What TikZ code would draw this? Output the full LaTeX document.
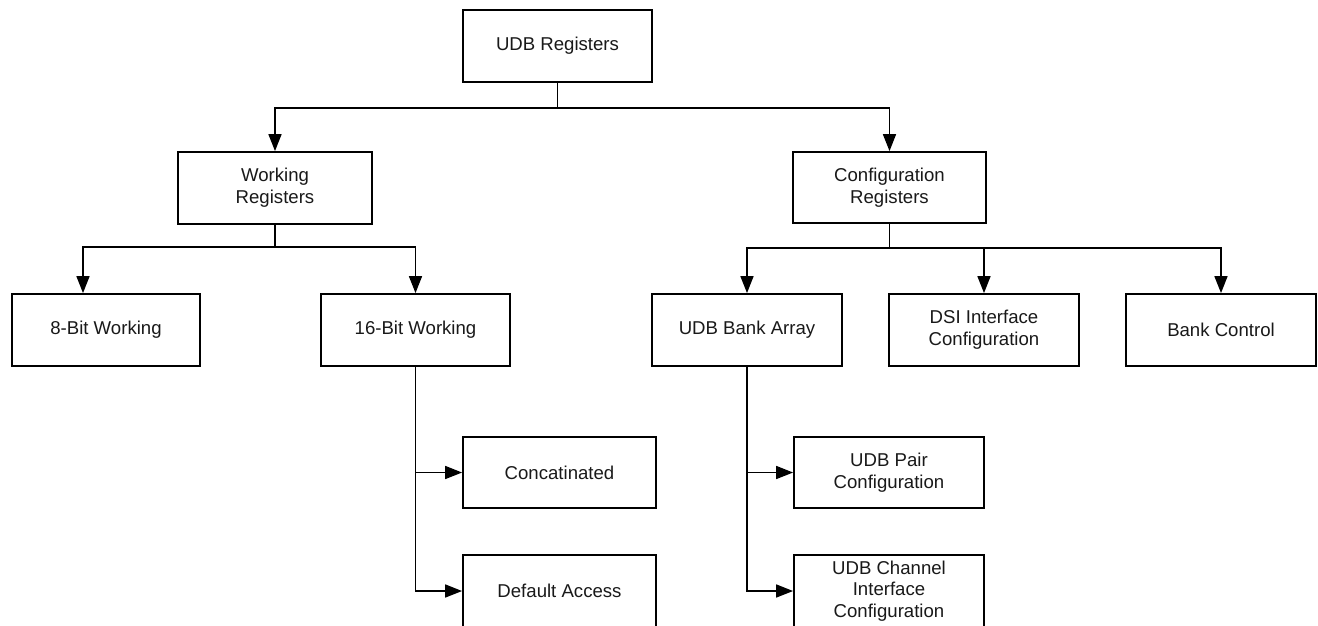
\documentclass[tikz,border=0pt]{standalone}
\usepackage{fontspec}
\setmainfont{Liberation Sans}
\usetikzlibrary{arrows.meta}
\begin{document}
\begin{tikzpicture}[x=1pt,y=-1pt,
  box/.style={draw=black,line width=1.8pt,fill=white,inner sep=0pt,align=center,
    minimum width=190pt,minimum height=72pt,text=black!90,
    font=\fontsize{18.6}{21.7}\selectfont},
  conn/.style={draw=black,line width=1.6pt},
  arr/.style={conn,-{Triangle[length=17pt,width=13pt]}}]
\useasboundingbox (0,0) rectangle (1318,625);
% nodes
\node[box,minimum width=189pt] (top) at (557.5,46) {UDB Registers};
\node[box,minimum width=194pt] (work) at (275,188) {Working\\Registers};
\node[box,minimum width=193pt,minimum height=71pt] (conf) at (889.5,187.5) {Configuration\\Registers};
\node[box,minimum width=188pt] (b8) at (106,330) {8-Bit Working};
\node[box,minimum width=189pt] (b16) at (415.5,330) {16-Bit Working};
\node[box] (bank) at (747,330) {UDB Bank Array};
\node[box] (dsi) at (984,330) {DSI Interface\\Configuration};
\node[box] (ctrl) at (1221,330) {Bank Control};
\node[box,minimum width=193pt,minimum height=71pt] (conc) at (559.5,472.5) {Concatinated};
\node[box,minimum width=193pt] (def) at (559.5,591) {Default Access};
\node[box,minimum height=71pt] (pair) at (889,472.5) {UDB Pair\\Configuration};
\node[box] (chan) at (889,591) {UDB Channel\\Interface\\Configuration};
% junctions
\coordinate (j1) at (557.5,108);
\coordinate (j2) at (275,247);
\coordinate (j3) at (889.5,248);
% connectors
\draw[conn] (top.south) -- (j1);
\draw[arr] (j1) -| (work.north);
\draw[arr] (j1) -| (conf.north);
\draw[conn] (work.south) -- (j2);
\draw[arr] (j2) -| ([xshift=-23pt]b8.north);
\draw[arr] (j2) -| (b16.north);
\draw[conn] (conf.south) -- (j3);
\draw[arr] (j3) -| (bank.north);
\draw[arr] (j3) -| (dsi.north);
\draw[arr] (j3) -| (ctrl.north);
\draw[arr] (b16.south) |- (conc.west);
\draw[arr] (b16.south) |- (def.west);
\draw[arr] (bank.south) |- (pair.west);
\draw[arr] (bank.south) |- (chan.west);
\end{tikzpicture}
\end{document}
